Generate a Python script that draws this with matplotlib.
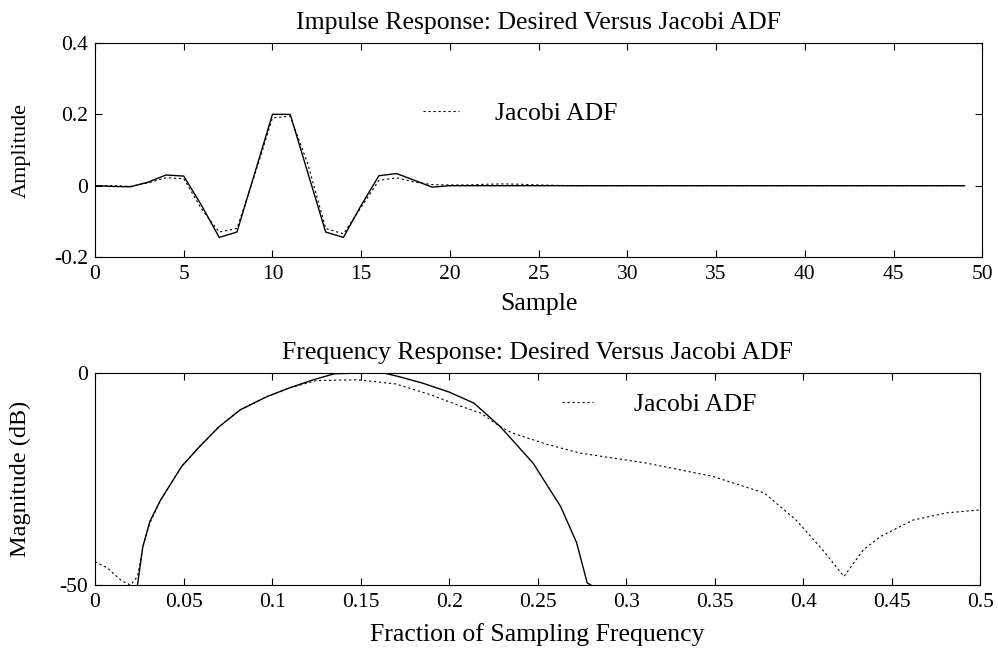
import matplotlib
matplotlib.use("Agg")
import matplotlib.pyplot as plt
from matplotlib.ticker import FormatStrFormatter

plt.rcParams['font.family'] = ['Liberation Serif', 'DejaVu Serif']
plt.rcParams['axes.unicode_minus'] = False

# impulse response, samples 0..49
samples = list(range(50))
desired_imp = [0.0, -0.002, -0.003, 0.01, 0.03, 0.027, -0.055, -0.145, -0.13, 0.035,
               0.2, 0.2, 0.035, -0.13, -0.145, -0.055, 0.028, 0.034, 0.015, -0.004,
               0.0, 0.0, 0.0, 0.0, 0.0, 0.0, 0.0, 0.0, 0.0, 0.0,
               0.0, 0.0, 0.0, 0.0, 0.0, 0.0, 0.0, 0.0, 0.0, 0.0,
               0.0, 0.0, 0.0, 0.0, 0.0, 0.0, 0.0, 0.0, 0.0, 0.0]
jacobi_imp = [0.0, 0.0, -0.002, 0.008, 0.022, 0.02, -0.065, -0.13, -0.12, 0.03,
              0.19, 0.195, 0.06, -0.12, -0.135, -0.06, 0.015, 0.022, 0.01, 0.003,
              0.002, 0.002, 0.004, 0.005, 0.004, 0.002, 0.001, 0.0, 0.0, 0.0,
              0.0, 0.0, 0.0, 0.0, 0.0, 0.0, 0.0, 0.0, 0.0, 0.0,
              0.0, 0.0, 0.0, 0.0, 0.0, 0.0, 0.0, 0.0, 0.0, 0.0]

# frequency response (dB)
desired_f = [0.024, 0.027, 0.031, 0.037, 0.049, 0.059, 0.07, 0.082, 0.097, 0.11, 0.123,
             0.135, 0.15, 0.163, 0.172, 0.185, 0.2, 0.214, 0.229, 0.2475, 0.263,
             0.272, 0.278, 0.28]
desired_db = [-50, -41, -35, -30, -22, -17.4, -12.7, -8.7, -5.6, -3.5, -1.65,
              -0.2, 0, 0, -0.9, -2.4, -4.5, -7.1, -12.7, -21.3, -31.5,
              -40, -49.5, -50]
jacobi_f = [0.0, 0.007, 0.015, 0.02, 0.024, 0.027, 0.031, 0.037, 0.049, 0.059, 0.07,
            0.082, 0.097, 0.11, 0.125, 0.148, 0.17, 0.19, 0.207, 0.218, 0.229, 0.236,
            0.255, 0.274, 0.312, 0.349, 0.378, 0.396, 0.411, 0.423, 0.434, 0.4435,
            0.462, 0.481, 0.5]
jacobi_db = [-44.5, -46, -49, -50, -48, -41, -35.4, -30, -22, -17.4, -12.7,
             -8.7, -5.6, -3.5, -1.8, -1.6, -2.6, -5.2, -7.9, -9.5, -12.7, -14.2,
             -16.8, -18.9, -21.3, -24.4, -28.3, -34.7, -41.7, -48, -41.7, -38.6,
             -34.7, -33, -32.3]

imp_xticks = [0, 5, 10, 15, 20, 25, 30, 35, 40, 45, 50]
imp_yticks = [-0.2, 0, 0.2, 0.4]
f_xticks = [0, 0.05, 0.1, 0.15, 0.2, 0.25, 0.3, 0.35, 0.4, 0.45, 0.5]
f_yticks = [-50, 0]

tick_fs = 15.5
text_fs = 18.5
dots = (0, (2, 2.5))

fig = plt.figure(figsize=(9.98, 6.55), dpi=100)
ax1 = fig.add_axes([0.0952, 0.6076, 0.889, 0.3267])
ax2 = fig.add_axes([0.0952, 0.1069, 0.887, 0.3237])


def style(ax):
    ax.tick_params(direction='in', top=True, right=True, labelsize=tick_fs, length=5,
                   width=0.8)
    ax.tick_params(axis='x', pad=6)
    ax.tick_params(axis='y', pad=5)
    for s in ax.spines.values():
        s.set_linewidth(0.8)


ax1.plot(samples, desired_imp, color='black', lw=1.0)
ax1.plot(samples, jacobi_imp, color='black', lw=0.8, linestyle=dots, label='Jacobi ADF')
ax1.set_xlim(0, 50)
ax1.set_ylim(-0.2, 0.4)
ax1.set_xticks(imp_xticks)
ax1.set_yticks(imp_yticks)
ax1.yaxis.set_major_formatter(FormatStrFormatter('%g'))
ax1.set_title('Impulse Response: Desired Versus Jacobi ADF', fontsize=text_fs, pad=10)
ax1.set_xlabel('Sample', fontsize=text_fs, labelpad=6)
ax1.set_ylabel('Amplitude', fontsize=16)
ax1.yaxis.set_label_coords(-0.072, 0.5)
style(ax1)
ax1.legend(loc='center left', bbox_to_anchor=(0.344, 0.67), frameon=False,
           fontsize=text_fs, handlelength=1.4, handletextpad=1.4)

ax2.plot(desired_f, desired_db, color='black', lw=1.0)
ax2.plot(jacobi_f, jacobi_db, color='black', lw=0.8, linestyle=dots, label='Jacobi ADF')
ax2.set_xlim(0, 0.5)
ax2.set_ylim(-50, 0)
ax2.set_xticks(f_xticks)
ax2.set_yticks(f_yticks)
ax2.xaxis.set_major_formatter(FormatStrFormatter('%g'))
ax2.set_title('Frequency Response: Desired Versus Jacobi ADF', fontsize=text_fs, pad=10)
ax2.set_xlabel('Fraction of Sampling Frequency', fontsize=text_fs, labelpad=8)
ax2.set_ylabel('Magnitude (dB)', fontsize=17.5)
ax2.yaxis.set_label_coords(-0.072, 0.5)
style(ax2)
ax2.legend(loc='center left', bbox_to_anchor=(0.5015, 0.85), frameon=False,
           fontsize=text_fs, handlelength=1.2, handletextpad=1.6)

fig.savefig('out.png', dpi=100)
